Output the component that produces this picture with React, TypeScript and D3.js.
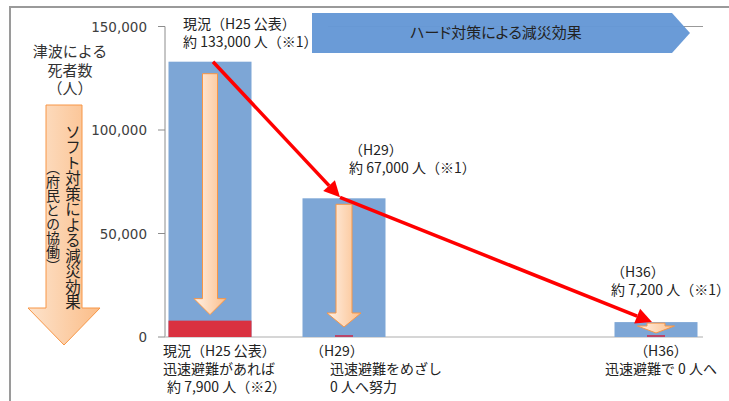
import React from 'react'
import * as d3 from 'd3'

// 津波による死者数の推移
const categories = ['H25', 'H29', 'H36']
const deaths = [133000, 67000, 7200]
const quickEvac = [7900, 0, 0]
const yTicks = [0, 50000, 100000, 150000]

const topLabels = [
  ['現況（H25 公表）', '約 133,000 人（※1）'],
  ['（H29）', '約 67,000 人（※1）'],
  ['（H36）', '約 7,200 人（※1）'],
]
const bottomLabels = [
  ['現況（H25 公表）', '迅速避難があれば', '約 7,900 人（※2）'],
  ['（H29）', '迅速避難をめざし', '0 人へ努力'],
  ['（H36）', '迅速避難で 0 人へ'],
]
const axisTitle = ['津波による', '死者数', '（人）']
const softTitle = ['ソフト対策による減災効果', '（府民との協働）']
const hardTitle = 'ハード対策による減災効果'

// layout (px offsets from bar centre / bar top)
const topLayout = [
  { dx: -27, dy: -33 },
  { dx: 5, dy: -43 },
  { dx: -45, dy: -45 },
]
const bottomLayout = [
  { anchor: 'start', dx: [-47, -47, -43] },
  { anchor: 'start', dx: [-34, -14, -14] },
  { anchor: 'middle', dx: [5, 5] },
]
const arrowLayout = [
  { top: 12, gap: 6, shaft: 15, head: 32, headH: 16 },
  { top: 6, gap: 10, shaft: 16, head: 34, headH: 14 },
  { top: 1, gap: 4, shaft: 18, head: 37, headH: 7 },
]

const FONT = '"Noto Sans CJK JP", "Noto Sans", sans-serif'
const NUMFONT = '"DejaVu Sans", Verdana, sans-serif'
const palt = { fontFeatureSettings: '"palt"' } as React.CSSProperties

const downArrow = (cx: number, top: number, tip: number, sw: number, hw: number, hh: number) => {
  const hs = tip - hh
  return d3.line()([
    [cx - sw / 2, top],
    [cx + sw / 2, top],
    [cx + sw / 2, hs],
    [cx + hw / 2, hs],
    [cx, tip],
    [cx - hw / 2, hs],
    [cx - sw / 2, hs],
  ]) + 'Z'
}

const redArrow = (a: [number, number], b: [number, number]) => {
  const len = 16
  const w = 8
  const ang = Math.atan2(b[1] - a[1], b[0] - a[0])
  const bx = b[0] - len * Math.cos(ang)
  const by = b[1] - len * Math.sin(ang)
  const nx = -Math.sin(ang) * w
  const ny = Math.cos(ang) * w
  return {
    line: d3.line()([a, [bx, by]]) as string,
    head: (d3.line()([[b[0], b[1]], [bx + nx, by + ny], [bx - nx, by - ny]]) as string) + 'Z',
  }
}

export default function App() {
  const width = 729
  const height = 401
  const y = d3.scaleLinear().domain([0, 150000]).range([337, 26.5])
  const x = d3.scaleOrdinal<string, number>().domain(categories).range([210, 344, 656])
  const barW = 83
  const axisX = 165
  const plotRight = 703

  const p0: [number, number] = [x(categories[0]) + 3, y(deaths[0])]
  const p1: [number, number] = [x(categories[1]) - 4, y(deaths[1]) - 1]
  const p2: [number, number] = [x(categories[2]) - 4, y(deaths[2])]
  const r1 = redArrow(p0, p1)
  const r2 = redArrow(p1, p2)

  return (
    <svg width={width} height={height} style={{ position: 'absolute', left: 0, top: 0, background: '#fff' }}>
      <defs>
        <linearGradient id="org" x1="0" x2="1" y1="0" y2="0">
          <stop offset="0" stopColor="#fff1e6" />
          <stop offset="1" stopColor="#fbbf8c" />
        </linearGradient>
        <linearGradient id="orgBig" x1="0" x2="1" y1="0" y2="0">
          <stop offset="0" stopColor="#fde3cc" />
          <stop offset="1" stopColor="#fbbd88" />
        </linearGradient>
      </defs>

      {/* frame */}
      <path d={`M10,${height}V7H${width}`} fill="none" stroke="#9a9a9a" strokeWidth={2} />

      {/* axis title */}
      {axisTitle.map((t, i) => (
        <text key={t} x={70} y={57 + i * 18.5} textAnchor="middle" fontFamily={FONT} fontSize={15} fill="#333">
          {t}
        </text>
      ))}

      {/* soft measures arrow */}
      <path d={downArrow(64, 105, 345, 36, 72, 37)} fill="url(#orgBig)" stroke="#f79646" strokeWidth={1} />
      {softTitle.map((t, i) => (
        <text
          key={t}
          x={73 - i * 20}
          y={217}
          textAnchor="middle"
          fontFamily={FONT}
          fontSize={i === 0 ? 15.5 : 14}
          fill="#222"
          style={{ writingMode: 'vertical-rl' } as React.CSSProperties}
        >
          {t}
        </text>
      ))}

      {/* hard measures banner line + banner */}
      <line x1={328} x2={plotRight} y1={y(150000)} y2={y(150000)} stroke="#999" strokeWidth={1} />
      <path d="M312,13H672L690,33L672,53H312Z" fill="#6598d6" fillOpacity={0.97} />
      <text x={496} y={38} textAnchor="middle" fontFamily={FONT} fontSize={15} fill="#222" style={palt}>
        {hardTitle}
      </text>

      {/* y axis */}
      <line x1={axisX} x2={axisX} y1={y(150000)} y2={y(0)} stroke="#8c8c8c" strokeWidth={1} />
      {yTicks.map((t) => (
        <g key={t}>
          <line x1={axisX - 7} x2={axisX} y1={y(t)} y2={y(t)} stroke="#8c8c8c" />
          <text x={147} y={y(t) + 5} textAnchor="end" fontFamily={NUMFONT} fontSize={13.5} fill="#404040">
            {d3.format(',')(t)}
          </text>
        </g>
      ))}
      <line x1={axisX} x2={plotRight} y1={y(0)} y2={y(0)} stroke="#c8c8c8" strokeWidth={1.5} />

      {/* bars */}
      {categories.map((c, i) => (
        <g key={c}>
          <rect x={x(c) - barW / 2} y={y(deaths[i])} width={barW} height={y(0) - y(deaths[i])} fill="#7da6d6" />
          {quickEvac[i] > 0 ? (
            <rect x={x(c) - barW / 2} y={y(quickEvac[i])} width={barW} height={y(0) - y(quickEvac[i])} fill="#da3140" />
          ) : (
            <rect x={x(c) - 9} y={y(0) - 2} width={18} height={2} fill="#b8456a" />
          )}
          <path
            d={downArrow(
              x(c),
              y(deaths[i]) + arrowLayout[i].top,
              y(quickEvac[i]) - arrowLayout[i].gap,
              arrowLayout[i].shaft,
              arrowLayout[i].head,
              arrowLayout[i].headH
            )}
            fill="url(#org)"
            stroke="#f79646"
            strokeWidth={1}
          />
        </g>
      ))}

      {/* red trend arrows */}
      <path d={r1.line} stroke="#ff0000" strokeWidth={3.5} fill="none" />
      <path d={r1.head} fill="#ff0000" />
      <path d={r2.line} stroke="#ff0000" strokeWidth={3.5} fill="none" />
      <path d={r2.head} fill="#ff0000" />

      {/* value labels */}
      {categories.map((c, i) =>
        topLabels[i].map((t, j) => (
          <text
            key={c + t}
            x={x(c) + topLayout[i].dx}
            y={y(deaths[i]) + topLayout[i].dy + j * 18}
            fontFamily={FONT}
            fontSize={14}
            fill="#222"
          >
            {t}
          </text>
        ))
      )}

      {/* category labels */}
      {categories.map((c, i) =>
        bottomLabels[i].map((t, j) => (
          <text
            key={c + t}
            x={x(c) + bottomLayout[i].dx[j]}
            y={356 + j * 18}
            textAnchor={bottomLayout[i].anchor}
            fontFamily={FONT}
            fontSize={14}
            fill="#222"
          >
            {t}
          </text>
        ))
      )}
    </svg>
  )
}
